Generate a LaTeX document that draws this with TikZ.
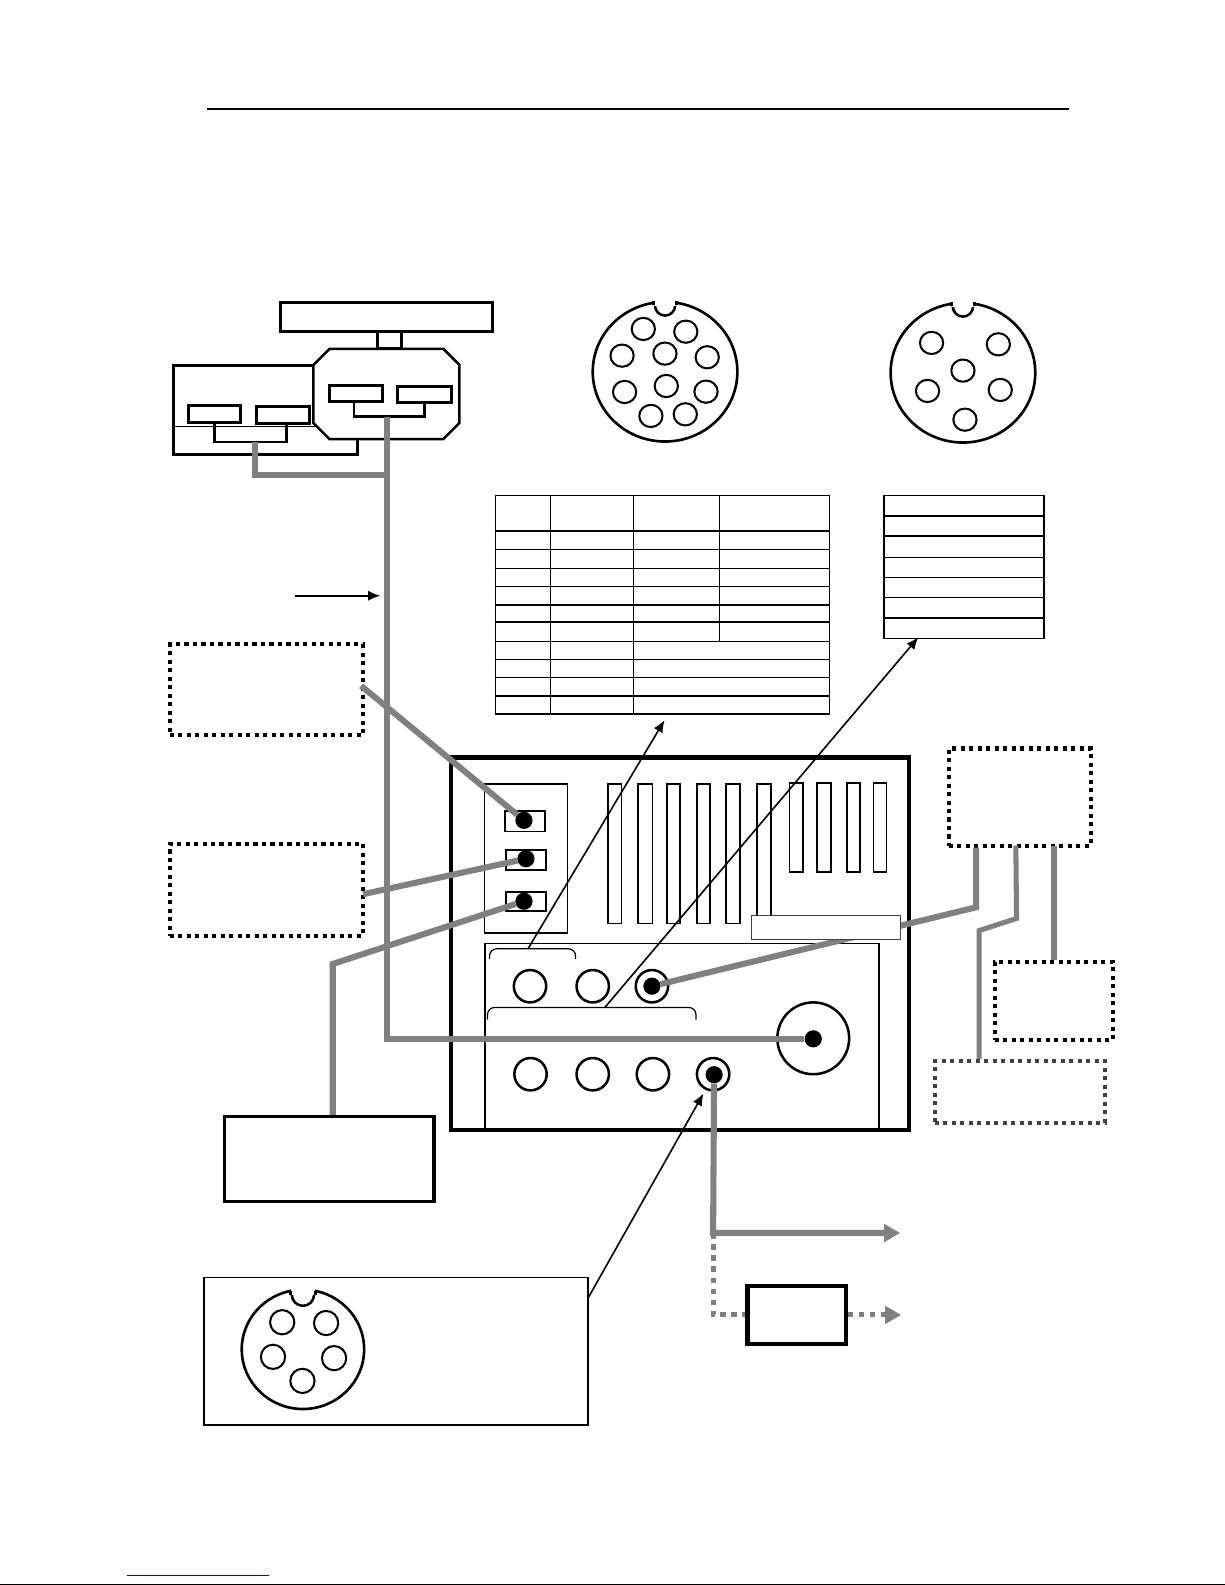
\documentclass[tikz,border=0pt]{standalone}
\usepackage{tikz}
\usetikzlibrary{shapes.geometric}
\usetikzlibrary{positioning}
\usetikzlibrary{calc}
\usetikzlibrary{arrows.meta}
\begin{document}
\begin{tikzpicture}
	[
		x = 1pt, y = -1pt,
		myblock/.style = {draw, rectangle, line width = 3pt, inner sep = 0pt, fill = white},
		mythin/.style = {draw, rectangle, line width = 1.8pt, inner sep = 0pt},
		mydotted/.style = {draw, rectangle, line width = 4pt, inner sep = 0pt, dash pattern = on 4pt off 4.4pt},
		mysocket/.style = {draw, ellipse, line width = 2.6pt, inner sep = 0pt, minimum width = 143pt, minimum height = 138pt},
		mynotch/.style = {draw, circle, line width = 2.5pt, inner sep = 0pt, minimum size = 20pt, fill = white},
		mypin/.style = {draw, ellipse, line width = 2pt, inner sep = 0pt, minimum width = 23pt, minimum height = 22pt},
		myjack/.style = {draw, circle, line width = 2.5pt, inner sep = 0pt, minimum size = 32pt},
		mydot/.style = {circle, fill = black, inner sep = 0pt, minimum size = 17pt},
		mycable/.style = {draw = gray, line width = 6pt},
		mycabledot/.style = {draw = gray, line width = 5pt, dash pattern = on 5.5pt off 5.5pt},
		myarrow/.style = {line width = 1.6pt, -{Latex[length = 12pt, width = 10pt]}},
		mybrace/.style = {line width = 1.2pt, rounded corners = 7pt},
		myrule/.style = {line width = 1.3pt}
	]
	\useasboundingbox (0,0) rectangle (1211,1567);
	%
	\coordinate (ruleL) at (205,108);
	\coordinate (ruleR) at (1057,108);
	\draw [line width = 2pt] (ruleL) -- (ruleR);
	%
	% antenna unit
	\node (mount) [myblock, minimum width = 181pt, minimum height = 88pt] at (262.5,405) {};
	\coordinate (mountL) at (172,422);
	\draw [line width = 1pt] (mountL) -- (mountL -| mount.east);
	\node (keyA) [myblock, minimum width = 52pt, minimum height = 17pt] at (212,409.5) {};
	\node (keyB) [myblock, minimum width = 52pt, minimum height = 17pt] at (280,410.5) {};
	\node (head) [rectangle, inner sep = 0pt, minimum width = 144pt, minimum height = 89pt] at (382,389.5) {};
	\draw [line width = 2.5pt, fill = white] ([xshift = 16pt]head.north west) -- ([xshift = -16pt]head.north east) -- ([yshift = -16pt]head.north east) -- ([yshift = 16pt]head.south east) -- ([xshift = -16pt]head.south east) -- ([xshift = 16pt]head.south west) -- ([yshift = 16pt]head.south west) -- ([yshift = -16pt]head.north west) -- cycle;
	\node (keyC) [myblock, minimum width = 52pt, minimum height = 16pt] at (352,389) {};
	\node (keyD) [myblock, minimum width = 53pt, minimum height = 16pt] at (419.5,390) {};
	\node (stem) [myblock, minimum width = 24pt, minimum height = 17pt] at (385,336.5) {};
	\node (display) [myblock, minimum width = 210pt, minimum height = 29pt] at (382,313.5) {};
	\coordinate (busA) at (252,437);
	\coordinate (busC) at (383,412);
	\draw [line width = 2.5pt] (keyA.south) |- (busA) -| ([xshift = 3pt]keyB.south);
	\draw [line width = 2.5pt] ([xshift = -2pt]keyC.south) |- (busC) -| (keyD.south);
	%
	% sockets
	\node (socketA) [mysocket] at (657.5,367.5) {};
	\node (socketB) [mysocket] at (952,368.5) {};
	\node (socketC) [mysocket, minimum width = 121pt, minimum height = 118pt] at (299.5,1334) {};
	\node (notchA) [mynotch] at (657.5,302) {};
	\node (notchB) [mynotch] at (952,303) {};
	\node (notchC) [mynotch, minimum size = 22pt] at (299.5,1280) {};
	\foreach \n in {notchA,notchB,notchC} {
		\fill [white] ([yshift = -0.5pt]\n.west) rectangle ([yshift = 13pt]\n.east);
		\draw [line width = 2.5pt] (\n.west) -- ++(0,-4);
		\draw [line width = 2.5pt] (\n.east) -- ++(0,-4);
	}
	\foreach \x/\y [count = \i] in {636/325.2,678/327.9,615/351.6,657.4/349.6,699.2/353.2,617.5/387.5,658.7/381.6,698/387.2,643.5/411.2,677.5/409.6}
		\node (pinA\i) [mypin] at (\x,\y) {};
	\foreach \x/\y [count = \i] in {921/339,987/340.4,952/366.4,917/386.5,988.9/385.5,954/414.9}
		\node (pinB\i) [mypin] at (\x,\y) {};
	\foreach \x/\y [count = \i] in {279/1307.2,322.4/1308,269.9/1341.4,330.3/1342.7,299/1365.2}
		\node (pinC\i) [mypin, minimum width = 24pt, minimum height = 24pt] at (\x,\y) {};
	%
	% pin tables
	\node (tableA) [mythin, line width = 1.5pt, minimum width = 330pt, minimum height = 216pt] at (655,598) {};
	\foreach \y in {525,543,562,580,598,615,634,652,670,688}
		\draw [myrule] (tableA.west |- 0,\y) -- (tableA.east |- 0,\y);
	\draw [myrule] (544,490) -- (544,706);
	\draw [myrule] (626,490) -- (626,706);
	\draw [myrule] (711,490) -- (711,634);
	\node (tableB) [mythin, line width = 1.5pt, minimum width = 158pt, minimum height = 141pt] at (953,560.5) {};
	\foreach \y in {510,530,551,571,591,611}
		\draw [myrule] (tableB.west |- 0,\y) -- (tableB.east |- 0,\y);
	%
	% rear panel
	\node (rear) [draw, rectangle, line width = 4.3pt, inner sep = 0pt, minimum width = 453pt, minimum height = 368pt] at (672.4,933) {};
	\node (alarm) [mythin, minimum width = 82pt, minimum height = 147pt] at (520,848.5) {};
	\node (portA) [mythin, minimum width = 40pt, minimum height = 20pt] at (519,812) {};
	\node (portB) [mythin, minimum width = 40pt, minimum height = 20pt] at (520,850) {};
	\node (portC) [mythin, minimum width = 40pt, minimum height = 19pt] at (520,891.5) {};
	\foreach \xa/\xb in {600.7/614.5,631/645,659.6/672.5,688.7/702,718/731.6}
		\draw [line width = 1.8pt] (\xa,775) rectangle (\xb,913);
	\draw [line width = 1.8pt] (748.6,775) rectangle (762,910);
	\foreach \xa/\xb in {780.6/794,808/821.8,837/850.5,863.6/876.5}
		\draw [line width = 1.8pt] (\xa,773.7) rectangle (\xb,862);
	\coordinate (deckL) at (479.6,932.8);
	\coordinate (deckR) at (869,932.8);
	\draw [line width = 1.8pt] (deckL |- rear.south) -- (deckL) -- (deckR) -- (deckR |- rear.south);
	\draw [mybrace] (484,948) -- (484,938) -- (569,938) -- (569,948);
	\draw [mybrace] (482,1008) -- (482,996) -- (688,996) -- (688,1008);
	\node (jackA) [myjack] at (524,975) {};
	\node (jackB) [myjack] at (586,975) {};
	\node (jackC) [myjack] at (644.5,975) {};
	\node (jackD) [myjack] at (524.5,1062) {};
	\node (jackE) [myjack] at (586,1062) {};
	\node (jackF) [myjack] at (645.5,1062) {};
	\node (jackG) [myjack] at (705,1062) {};
	\node (antenna) [myjack, minimum size = 71pt] at (804,1026.5) {};
	%
	% outer boxes
	\node (boxA) [mydotted, minimum width = 191pt, minimum height = 90pt] at (263.5,682) {};
	\node (boxB) [mydotted, minimum width = 191pt, minimum height = 91pt] at (263.5,879.5) {};
	\node (boxC) [mydotted, minimum width = 140.5pt, minimum height = 96pt] at (1008.2,788) {};
	\node (boxD) [mydotted, minimum width = 116.4pt, minimum height = 78pt] at (1041.8,989.6) {};
	\node (boxE) [mydotted, draw = black!75, minimum width = 168pt, minimum height = 61pt] at (1008.3,1079.5) {};
	\node (radar) [myblock, line width = 3.5pt, minimum width = 207pt, minimum height = 84pt] at (325.5,1146) {};
	\node (note) [mythin, minimum width = 379pt, minimum height = 146pt] at (391.5,1336) {};
	\node (filter) [myblock, line width = 4pt, minimum width = 97pt, minimum height = 58pt] at (787.5,1300) {};
	%
	% plugs
	\node (plugA) [mydot] at (518,811) {};
	\node (plugB) [mydot] at (520,849) {};
	\node (plugC) [mydot] at (518,891) {};
	\node (plugD) [mydot] at (644.5,975) {};
	\node (plugE) [mydot] at (804,1027) {};
	\node (plugF) [mydot] at (706,1062.5) {};
	%
	% cables
	\coordinate (kneeA) at (357,678);
	\coordinate (kneeB) at (359,884);
	\coordinate (kneeC) at (329,953);
	\coordinate (kneeD) at (965,897);
	\coordinate (kneeE) at (1005,908);
	\coordinate (kneeF) at (968,920);
	\coordinate (kneeG) at (705,1219);
	\coordinate (endG) at (890,1219);
	\coordinate (endH) at (891,1300);
	\draw [mycable] (busA) |- (383,470);
	\draw [mycable] (busC) |- (plugE);
	\draw [mycable] (kneeA) -- (plugA);
	\draw [mycable] (kneeB) -- (plugB);
	\draw [mycable] (plugC) -- (kneeC) -- (radar.north -| kneeC);
	\draw [mycable] (boxC.south -| kneeD) -- (kneeD) -- (plugD);
	\draw [mycable, line width = 5pt] (1004.3,836) -- (kneeE) -- (kneeF) -- (boxE.north -| kneeF);
	\draw [mycable, line width = 5pt] (1042,836) -- (boxD.north -| 1042,0);
	\draw [mycable, -{Triangle[length = 16pt, width = 17pt]}] (plugF) -- (kneeG) -- (endG);
	\draw [mycabledot] (kneeG) |- (filter.west);
	\draw [mycabledot, -{Triangle[length = 16pt, width = 17pt]}] (filter.east) -- (endH);
	%
	\node (label) [draw = black!75, fill = white, rectangle, line width = 1pt, inner sep = 0pt, minimum width = 147.4pt, minimum height = 23.7pt] at (816.4,916.6) {};
	%
	% pointers
	\coordinate (tailA) at (292,589);
	\coordinate (tipA) at (376,589);
	\coordinate (tailB) at (522,938);
	\coordinate (tipB) at (657,712);
	\coordinate (tailC) at (598,996);
	\coordinate (tipC) at (908,630);
	\coordinate (tailD) at (581,1284);
	\coordinate (tipD) at (695.5,1081);
	\draw [myarrow] (tailA) -- (tipA);
	\draw [myarrow] (tailB) -- (tipB);
	\draw [myarrow] (tailC) -- (tipC);
	\draw [myarrow] (tailD) -- (tipD);
	%
	% page foot
	\coordinate (linkL) at (125.5,1557.3);
	\coordinate (linkR) at (265.6,1557.3);
	\coordinate (footL) at (0,1566.5);
	\coordinate (footR) at (1211,1566.5);
	\draw [blue!80!black, line width = 1pt] (linkL) -- (linkR);
	\draw [line width = 1pt] (footL) -- (footR);
	%
\end{tikzpicture}
\end{document}
